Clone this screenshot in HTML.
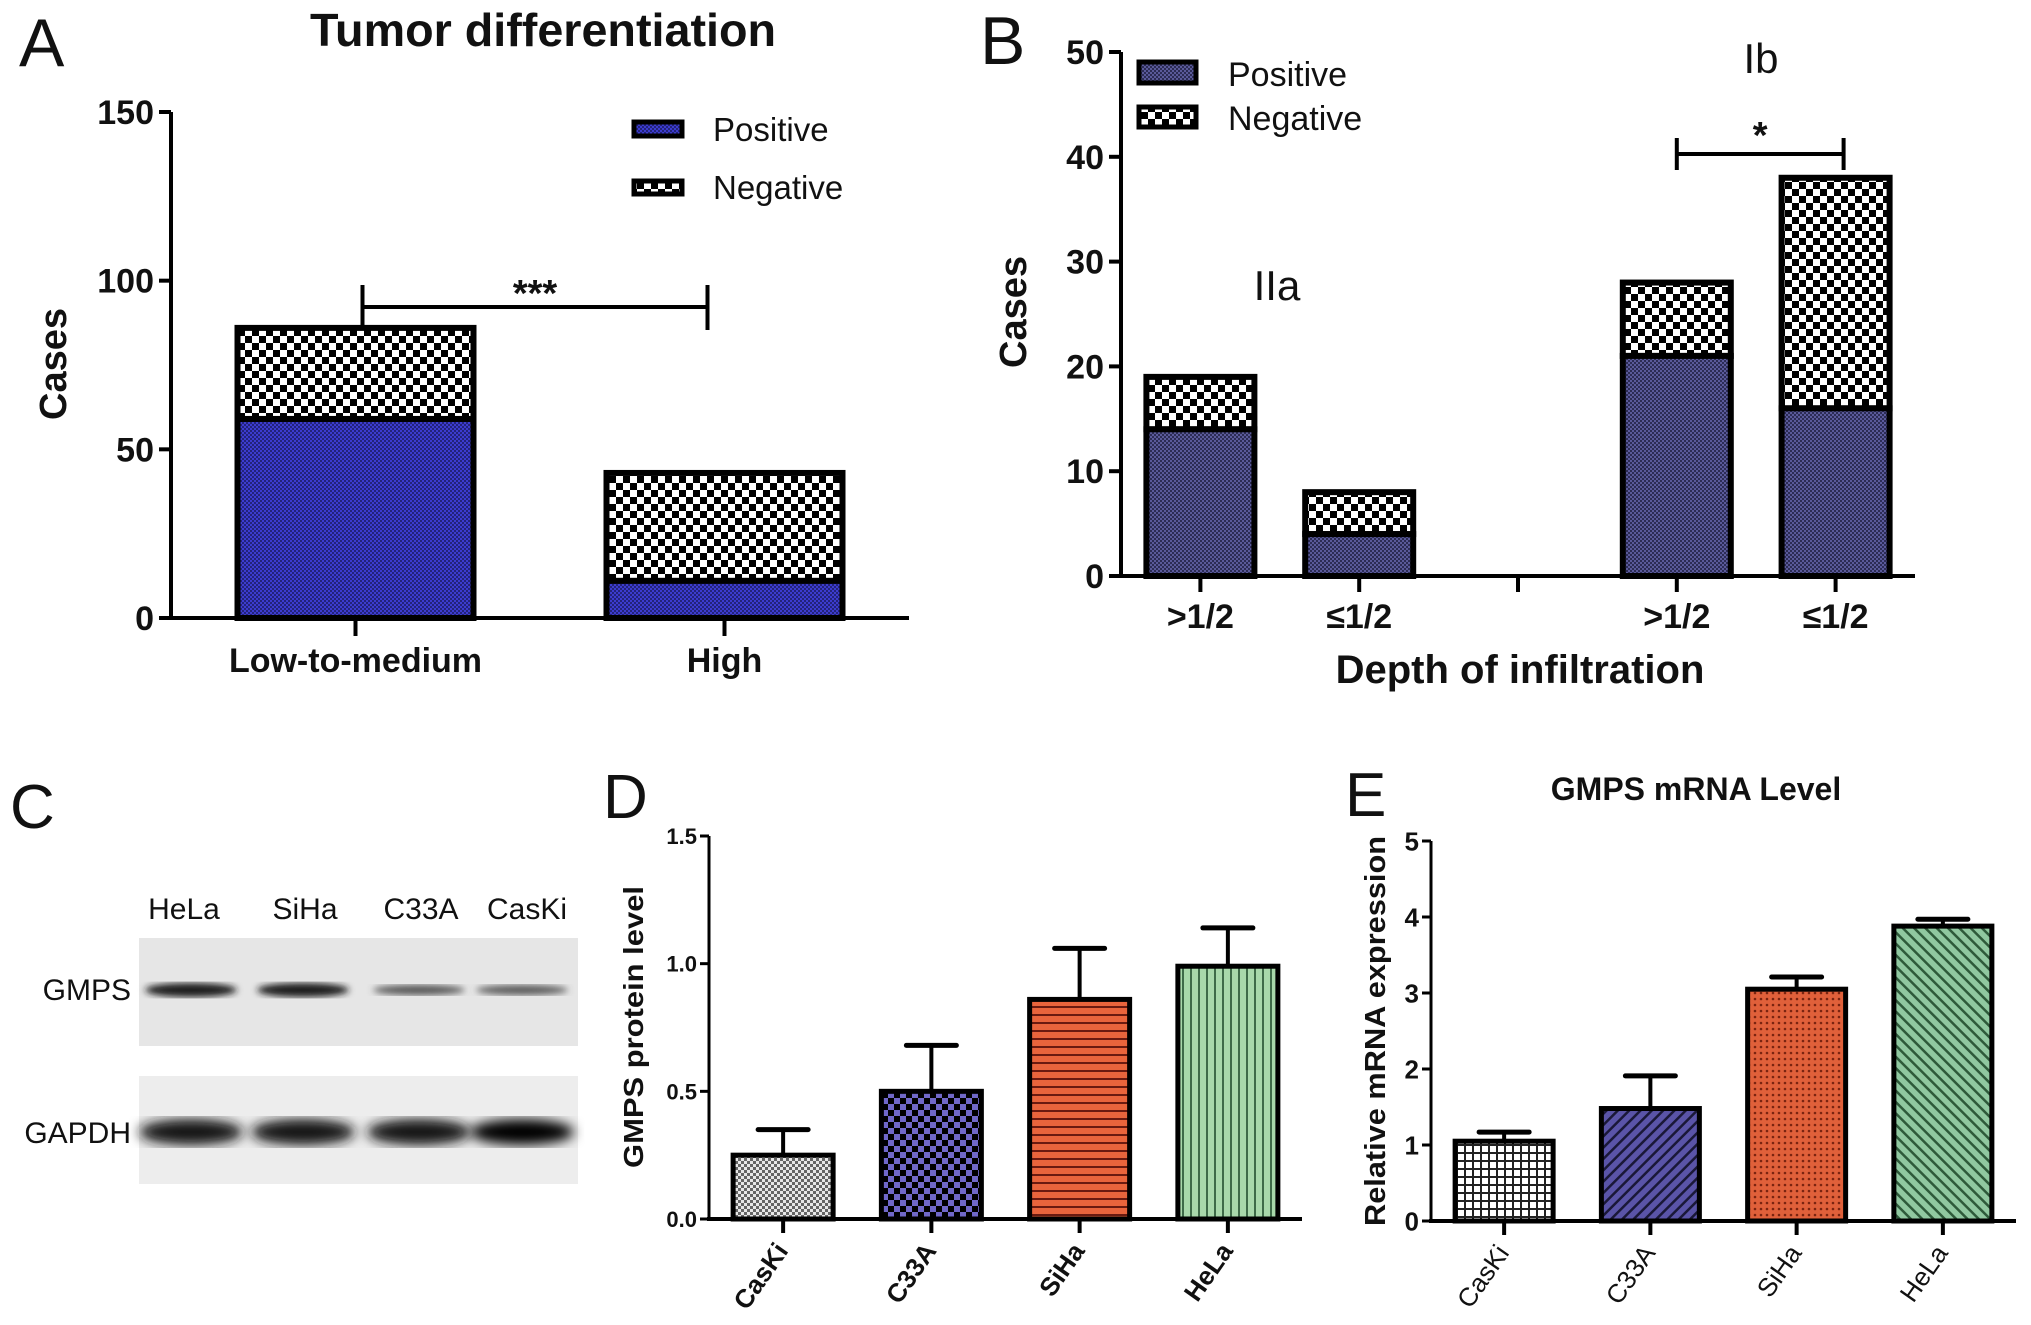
<!DOCTYPE html>
<html><head><meta charset="utf-8">
<style>
html,body{margin:0;padding:0;background:#fff;}
svg{display:block;}
text{font-family:"Liberation Sans Narrow","Liberation Sans",sans-serif;fill:#111;}
.b{font-weight:bold;}
</style></head>
<body>
<svg id="fig" width="2031" height="1325" viewBox="0 0 2031 1325" xmlns="http://www.w3.org/2000/svg">
<defs>
  <pattern id="pChk" width="14" height="14" patternUnits="userSpaceOnUse"><rect width="14" height="14" fill="#000"/><rect x="0" y="0" width="7" height="7" fill="#fff"/><rect x="7" y="7" width="7" height="7" fill="#fff"/></pattern>
  <pattern id="pBlueA" width="4" height="4" patternUnits="userSpaceOnUse"><rect width="4" height="4" fill="#3c3ccf"/><rect width="2" height="2" fill="#23237a"/><rect x="2" y="2" width="2" height="2" fill="#23237a"/></pattern>
  <pattern id="pNavyB" width="4" height="4" patternUnits="userSpaceOnUse"><rect width="4" height="4" fill="#5a5a9a"/><rect width="2" height="2" fill="#2c2c55"/><rect x="2" y="2" width="2" height="2" fill="#2c2c55"/></pattern>
  <pattern id="pGray" width="6" height="6" patternUnits="userSpaceOnUse"><rect width="6" height="6" fill="#e8e8e8"/><rect width="3" height="3" fill="#666"/><rect x="3" y="3" width="3" height="3" fill="#666"/></pattern>
  <pattern id="pPurChk" width="12" height="12" patternUnits="userSpaceOnUse"><rect width="12" height="12" fill="#000"/><rect x="0" y="0" width="6" height="6" fill="#7068c8"/><rect x="6" y="6" width="6" height="6" fill="#7068c8"/></pattern>
  <pattern id="pOrH" width="8" height="8" patternUnits="userSpaceOnUse"><rect width="8" height="8" fill="#e8643c"/><rect y="6" width="8" height="2" fill="#6a1a10"/></pattern>
  <pattern id="pGrV" width="8" height="8" patternUnits="userSpaceOnUse"><rect width="8" height="8" fill="#a8d8aa"/><rect x="6" width="2" height="8" fill="#3e6a48"/></pattern>
  <pattern id="pGrid" width="8" height="8" patternUnits="userSpaceOnUse"><rect width="8" height="8" fill="#fff"/><rect width="8" height="2" fill="#222"/><rect width="2" height="8" fill="#222"/></pattern>
  <pattern id="pDiagP" width="8" height="8" patternUnits="userSpaceOnUse" patternTransform="rotate(45)"><rect width="8" height="8" fill="#5a54a8"/><rect width="2.5" height="8" fill="#1a1838"/></pattern>
  <pattern id="pOrDot" width="6" height="6" patternUnits="userSpaceOnUse"><rect width="6" height="6" fill="#e0603a"/><circle cx="3" cy="3" r="1.3" fill="#7a2410"/></pattern>
  <pattern id="pGrDiag" width="8" height="8" patternUnits="userSpaceOnUse" patternTransform="rotate(-45)"><rect width="8" height="8" fill="#90c8a0"/><rect width="2.5" height="8" fill="#2e5a3a"/></pattern>
  <filter id="blur6"><feGaussianBlur stdDeviation="6"/></filter>
  <filter id="blur3"><feGaussianBlur stdDeviation="3.5"/></filter>
</defs>
<g id="layer"></g>
</svg>
<script>
// ---------- data ----------
const aCategories = ["Low-to-medium", "High"];
const aPositive = [59, 11];
const aNegative = [27, 32];
const aTicks = [0, 50, 100, 150];

const bCategories = [">1/2", "≤1/2", "", ">1/2", "≤1/2"];
const bPositive = [14, 4, null, 21, 16];
const bNegative = [5, 4, null, 7, 22];
const bTicks = [0, 10, 20, 30, 40, 50];

const dCategories = ["CasKi", "C33A", "SiHa", "HeLa"];
const dValues = [0.25, 0.50, 0.86, 0.99];
const dErrors = [0.10, 0.18, 0.20, 0.15];
const dTicks = ["0.0", "0.5", "1.0", "1.5"];

const eCategories = ["CasKi", "C33A", "SiHa", "HeLa"];
const eValues = [1.05, 1.48, 3.05, 3.88];
const eErrors = [0.12, 0.43, 0.16, 0.09];
const eTicks = [0, 1, 2, 3, 4, 5];

const NS = "http://www.w3.org/2000/svg";
const root = document.getElementById("layer");
function mk(tag, attrs, parent, txt) {
  const e = document.createElementNS(NS, tag);
  for (const k in attrs) e.setAttribute(k, attrs[k]);
  if (txt !== undefined) e.textContent = txt;
  (parent || root).appendChild(e);
  return e;
}
function grp(name) {
  const g = mk("g", {});
  
  
  return g;
}
function lin(min, max, p0, p1) { return v => p0 + (v - min) / (max - min) * (p1 - p0); }

// ---------- Panel A ----------
(function () {
  const g = grp("panel-a");
  const x0 = 171, x1 = 909, yTop = 112, yBot = 618;
  const y = lin(0, 150, yBot, yTop);
  const step = (x1 - x0) / aCategories.length, bw = 236;
  let t = mk("text", {x: 19, y: 66, "font-size": 68, "font-family": "Liberation Sans"}, g, "A");
   
  t = mk("text", {x: 543, y: 46, "font-size": 46, "text-anchor": "middle", class: "b", textLength: 466, lengthAdjust: "spacingAndGlyphs"}, g, "Tumor differentiation");
   
  aCategories.forEach((c, i) => {
    const cx = x0 + (i + 0.5) * step, l = cx - bw / 2;
    const tot = aPositive[i] + aNegative[i];
    let r = mk("rect", {x: l, y: y(tot), width: bw, height: y(aPositive[i]) - y(tot), fill: "url(#pChk)", stroke: "#000", "stroke-width": 6}, g);
     
    r = mk("rect", {x: l, y: y(aPositive[i]), width: bw, height: yBot - y(aPositive[i]), fill: "url(#pBlueA)", stroke: "#000", "stroke-width": 6}, g);
     
    mk("line", {x1: cx, x2: cx, y1: yBot, y2: yBot + 18, stroke: "#000", "stroke-width": 4}, g);
    const lt = mk("text", {x: cx, y: 672, "font-size": 34, "text-anchor": "middle", class: "b"}, g, c);
     
  });
  mk("line", {x1: x0, x2: x0, y1: yTop, y2: yBot + 2, stroke: "#000", "stroke-width": 4}, g);
  mk("line", {x1: x0 - 2, x2: x1, y1: yBot, y2: yBot, stroke: "#000", "stroke-width": 4}, g);
  aTicks.forEach(v => {
    mk("line", {x1: x0 - 12, x2: x0, y1: y(v), y2: y(v), stroke: "#000", "stroke-width": 4}, g);
    const tt = mk("text", {x: x0 - 17, y: y(v) + 12, "font-size": 34, "text-anchor": "end", class: "b"}, g, v);
     
  });
  t = mk("text", {x: 0, y: 0, "font-size": 38, "text-anchor": "middle", class: "b", transform: "translate(66,364) rotate(-90)"}, g, "Cases");
   
  let lg = mk("rect", {x: 634, y: 122, width: 48, height: 14, fill: "url(#pBlueA)", stroke: "#000", "stroke-width": 5}, g);
   
  lg = mk("text", {x: 713, y: 141, "font-size": 33}, g, "Positive");
   
  lg = mk("rect", {x: 634, y: 181, width: 48, height: 13, fill: "url(#pChk)", stroke: "#000", "stroke-width": 5}, g);
   
  lg = mk("text", {x: 713, y: 199, "font-size": 33}, g, "Negative");
   
  const c0 = x0 + 0.5 * step + 7, c1 = x0 + 1.5 * step - 17;
  mk("path", {d: `M${c0},${y(aPositive[0] + aNegative[0])} V285 M${c0},307 H${c1} M${c1},285 V330`, stroke: "#000", "stroke-width": 4, fill: "none"}, g);
  t = mk("text", {x: (c0 + c1) / 2, y: 306, "font-size": 38, "text-anchor": "middle", class: "b"}, g, "***");
   
})();

// ---------- Panel B ----------
(function () {
  const g = grp("panel-b");
  const x0 = 1121, x1 = 1915, yTop = 52, yBot = 576;
  const y = lin(0, 50, yBot, yTop);
  const step = (x1 - x0) / bCategories.length, bw = 108;
  let t = mk("text", {x: 980, y: 64, "font-size": 68, "font-family": "Liberation Sans"}, g, "B");
   
  bCategories.forEach((c, i) => {
    const cx = x0 + (i + 0.5) * step, l = cx - bw / 2;
    mk("line", {x1: cx, x2: cx, y1: yBot, y2: yBot + 16, stroke: "#000", "stroke-width": 4}, g);
    if (bPositive[i] === null) return;
    const tot = bPositive[i] + bNegative[i];
    let r = mk("rect", {x: l, y: y(tot), width: bw, height: y(bPositive[i]) - y(tot), fill: "url(#pChk)", stroke: "#000", "stroke-width": 6}, g);
     
    r = mk("rect", {x: l, y: y(bPositive[i]), width: bw, height: yBot - y(bPositive[i]), fill: "url(#pNavyB)", stroke: "#000", "stroke-width": 6}, g);
     
    const lt = mk("text", {x: cx, y: 628, "font-size": 34, "text-anchor": "middle", class: "b", "font-family": "Liberation Sans, DejaVu Sans, sans-serif"}, g, c);
     
  });
  mk("line", {x1: x0, x2: x0, y1: yTop, y2: yBot + 2, stroke: "#000", "stroke-width": 4}, g);
  mk("line", {x1: x0 - 2, x2: x1, y1: yBot, y2: yBot, stroke: "#000", "stroke-width": 4}, g);
  bTicks.forEach(v => {
    mk("line", {x1: x0 - 12, x2: x0, y1: y(v), y2: y(v), stroke: "#000", "stroke-width": 4}, g);
    const tt = mk("text", {x: x0 - 17, y: y(v) + 12, "font-size": 34, "text-anchor": "end", class: "b"}, g, v);
     
  });
  t = mk("text", {x: 0, y: 0, "font-size": 38, "text-anchor": "middle", class: "b", transform: "translate(1026,312) rotate(-90)"}, g, "Cases");
   
  t = mk("text", {x: 1520, y: 683, "font-size": 40, "text-anchor": "middle", class: "b"}, g, "Depth of infiltration");
   
  t = mk("text", {x: 1277, y: 300, "font-size": 42, "text-anchor": "middle"}, g, "IIa");
   
  t = mk("text", {x: 1761, y: 73, "font-size": 42, "text-anchor": "middle"}, g, "Ib");
   
  let lg = mk("rect", {x: 1139, y: 62, width: 57, height: 21, fill: "url(#pNavyB)", stroke: "#000", "stroke-width": 5}, g);
   
  lg = mk("text", {x: 1228, y: 86, "font-size": 34}, g, "Positive");
   
  lg = mk("rect", {x: 1139, y: 107, width: 57, height: 20, fill: "url(#pChk)", stroke: "#000", "stroke-width": 5}, g);
   
  lg = mk("text", {x: 1228, y: 130, "font-size": 34}, g, "Negative");
   
  const c0 = x0 + 3.5 * step, c1 = x0 + 4.5 * step + 8;
  mk("path", {d: `M${c0},138 V170 M${c0},154 H${c1} M${c1},138 V170`, stroke: "#000", "stroke-width": 4, fill: "none"}, g);
  t = mk("text", {x: (c0 + c1) / 2, y: 148, "font-size": 38, "text-anchor": "middle", class: "b"}, g, "*");
   
})();

// ---------- Panel C (western blot) ----------
(function () {
  const g = grp("panel-c");
  let t = mk("text", {x: 10, y: 828, "font-size": 62, "font-family": "Liberation Sans"}, g, "C");
   
  const lanes = ["HeLa", "SiHa", "C33A", "CasKi"];
  const laneX = [184, 305, 421, 527];
  lanes.forEach((l, i) => {
    const lt = mk("text", {x: laneX[i], y: 919, "font-size": 30, "text-anchor": "middle"}, g, l);
     
  });
  let r = mk("rect", {x: 139, y: 938, width: 439, height: 108, fill: "#e6e6e6"}, g);
   
  r = mk("rect", {x: 139, y: 1076, width: 439, height: 108, fill: "#ededed"}, g);
   
  const gmpsBand = [["#1a1a1a", 7], ["#1e1e1e", 7], ["#555", 5], ["#5a5a5a", 5]];
  laneX.forEach((x, i) => {
    const bx = [191, 303, 419, 522][i];
    mk("ellipse", {cx: bx, cy: 990, rx: 46, ry: gmpsBand[i][1], fill: gmpsBand[i][0], filter: "url(#blur3)"}, g);
    mk("ellipse", {cx: bx, cy: 1132, rx: 52, ry: 13, fill: i === 3 ? "#000" : "#151515", filter: "url(#blur6)"}, g);
  });
  t = mk("text", {x: 131, y: 1000, "font-size": 30, "text-anchor": "end"}, g, "GMPS");
   
  t = mk("text", {x: 131, y: 1143, "font-size": 30, "text-anchor": "end"}, g, "GAPDH");
   
})();

// ---------- generic error-bar chart ----------
function errChart(o) {
  const g = grp(o.name);
  const y = lin(0, o.max, o.yBot, o.yTop);
  const step = (o.x1 - o.x0) / o.cats.length;
  o.cats.forEach((c, i) => {
    const cx = o.x0 + (i + 0.5) * step;
    const top = y(o.vals[i] + o.errs[i]);
    mk("line", {x1: cx, x2: cx, y1: y(o.vals[i]), y2: top, stroke: "#000", "stroke-width": 4}, g);
    mk("line", {x1: cx - 25, x2: cx + 25, y1: top, y2: top, stroke: "#000", "stroke-width": 5, "stroke-linecap": "round"}, g);
    const r = mk("rect", {x: cx - o.bw / 2, y: y(o.vals[i]), width: o.bw, height: o.yBot - y(o.vals[i]), fill: o.fills[i], stroke: "#000", "stroke-width": 5}, g);
     
    mk("line", {x1: cx, x2: cx, y1: o.yBot, y2: o.yBot + 14, stroke: "#000", "stroke-width": 4}, g);
    const lt = mk("text", {x: 0, y: 0, "font-size": o.xfs, "text-anchor": "end", class: o.xcls, transform: `translate(${cx + 6},${o.yBot + 32}) rotate(-55)`}, g, c);
     
  });
  mk("line", {x1: o.x0, x2: o.x0, y1: o.yTop, y2: o.yBot + 2, stroke: "#000", "stroke-width": 3}, g);
  mk("line", {x1: o.x0 - 2, x2: o.x1, y1: o.yBot, y2: o.yBot, stroke: "#000", "stroke-width": 4}, g);
  o.ticks.forEach(v => {
    const yy = y(parseFloat(v));
    mk("line", {x1: o.x0 - 9, x2: o.x0, y1: yy, y2: yy, stroke: "#000", "stroke-width": 3}, g);
    const tt = mk("text", {x: o.x0 - 12, y: yy + o.tfs * 0.36, "font-size": o.tfs, "text-anchor": "end", class: "b"}, g, v);
     
  });
  const yt = mk("text", {x: 0, y: 0, "font-size": o.yfs, "text-anchor": "middle", class: "b", textLength: o.ylen, lengthAdjust: "spacingAndGlyphs", transform: `translate(${o.yx},${o.yy}) rotate(-90)`}, g, o.ytitle);
   
  return g;
}

const gD = errChart({name: "panel-d", x0: 709, x1: 1302, yTop: 836, yBot: 1219, max: 1.5, bw: 100,
  cats: dCategories, vals: dValues, errs: dErrors, ticks: dTicks, tfs: 22, xfs: 26, xcls: "b",
  fills: ["url(#pGray)", "url(#pPurChk)", "url(#pOrH)", "url(#pGrV)"],
  ytitle: "GMPS protein level", yfs: 28, ylen: 282, yx: 643, yy: 1027});
let tD = mk("text", {x: 603, y: 818, "font-size": 62, "font-family": "Liberation Sans"}, gD, "D");
 

const gE = errChart({name: "panel-e", x0: 1431, x1: 2016, yTop: 841, yBot: 1221, max: 5, bw: 98,
  cats: eCategories, vals: eValues, errs: eErrors, ticks: eTicks.map(String), tfs: 26, xfs: 26, xcls: "",
  fills: ["url(#pGrid)", "url(#pDiagP)", "url(#pOrDot)", "url(#pGrDiag)"],
  ytitle: "Relative mRNA expression", yfs: 29, ylen: 390, yx: 1385, yy: 1031});
let tE = mk("text", {x: 1345, y: 816, "font-size": 62, "font-family": "Liberation Sans"}, gE, "E");
 
tE = mk("text", {x: 1696, y: 800, "font-size": 32, "text-anchor": "middle", class: "b", "font-family": "Liberation Sans"}, gE, "GMPS mRNA Level");
 
</script>
</body></html>
